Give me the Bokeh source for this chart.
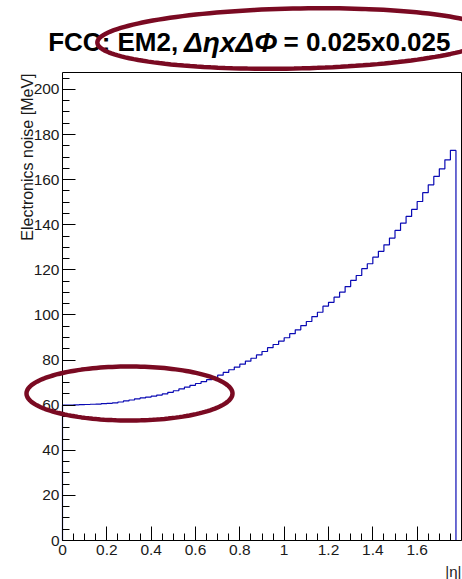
import numpy as np
from bokeh.plotting import figure
from bokeh.models import Range1d, FixedTicker, Label, PolyAnnotation, LinearAxis
from bokeh.embed import file_html
from bokeh.resources import INLINE

# ---- data ----
bin_width = 0.025
noise_mev = [60.0, 60.0, 60.1, 60.2, 60.3, 60.4, 60.5, 60.7, 60.8, 61.0,
             61.4, 61.9, 62.3, 62.8, 63.2, 63.6, 64.0, 64.5, 65.0, 65.7,
             66.4, 67.2, 68.0, 68.8, 69.6, 70.4, 71.3, 72.1, 73.3, 74.5,
             75.7, 76.9, 78.2, 79.5, 80.8, 82.3, 83.8, 85.5, 86.9, 88.4,
             89.9, 91.7, 93.4, 95.3, 97.1, 99.3, 101.2, 103.9, 105.6, 107.9,
             110.1, 112.6, 115.3, 117.5, 120.5, 122.7, 125.6, 128.2, 131.1, 134.1,
             137.5, 140.7, 143.7, 146.8, 150.3, 154.2, 157.7, 161.4, 164.8, 168.8,
             173.0]
eta_edges = [round(i * bin_width, 4) for i in range(len(noise_mev) + 1)]

x_ticks = [0, 0.2, 0.4, 0.6, 0.8, 1, 1.2, 1.4, 1.6]
x_tick_labels = ["0", "0.2", "0.4", "0.6", "0.8", "1", "1.2", "1.4", "1.6"]
y_ticks = [0, 20, 40, 60, 80, 100, 120, 140, 160, 180, 200]
y_tick_labels = ["0", "20", "40", "60", "80", "100", "120", "140", "160", "180", "200"]

title_parts = ["FCC: EM2,", "\u0394\u03b7x\u0394\u03a6", "= 0.025x0.025"]
y_title = "Electronics noise [MeV]"
x_title = "|\u03b7|"

# ---- layout: the plot box occupies canvas pixels x 62..461, y 72..540 ----
x_lo, x_hi = 0.0, 1.8
y_lo, y_hi = 0.0, 207.5
W, H = 462, 579
box_l, box_r, box_t, box_b = 62, 461, 72, 540
kx = (box_r - box_l) / (x_hi - x_lo)
ky = (box_b - box_t) / (y_hi - y_lo)
x_range = Range1d(x_lo - box_l / kx, x_hi + (W - box_r) / kx)
y_range = Range1d(y_lo - (H - box_b) / ky, y_hi + box_t / ky)

p = figure(width=W, height=H, output_backend="svg", toolbar_location=None,
           x_range=x_range, y_range=y_range, x_axis_type=None, y_axis_type=None,
           min_border=0, title=None)
p.background_fill_color = "white"
p.border_fill_color = "white"
p.outline_line_color = None

line_col = "#0a0ab4"
p.step(x=eta_edges, y=noise_mev + [noise_mev[-1]], mode="after",
       line_color=line_col, line_width=1.2)
p.segment(x0=[eta_edges[0], eta_edges[-1]], y0=[0, 0],
          x1=[eta_edges[0], eta_edges[-1]], y1=[noise_mev[0], noise_mev[-1]],
          line_color=line_col, line_width=1.2)

def style_axis(ax):
    ax.axis_line_color = "black"
    ax.major_tick_line_color = "black"
    ax.minor_tick_line_color = "black"
    ax.major_tick_out = 0
    ax.minor_tick_out = 0
    ax.major_label_text_color = "#1a1a1a"
    ax.major_label_text_font = "Liberation Sans"
    ax.major_label_text_font_size = "15.5px"

xaxis = LinearAxis(fixed_location=y_lo, bounds=(x_lo, x_hi),
                   ticker=FixedTicker(ticks=x_ticks,
                                      minor_ticks=[round(i * 0.05, 3) for i in range(37)]))
style_axis(xaxis)
xaxis.major_label_overrides = dict(zip(x_ticks, x_tick_labels))
xaxis.major_tick_in = 14
xaxis.minor_tick_in = 7
xaxis.major_label_standoff = 4
p.add_layout(xaxis, "below")

yaxis = LinearAxis(fixed_location=x_lo, bounds=(y_lo, y_hi),
                   ticker=FixedTicker(ticks=y_ticks, minor_ticks=list(range(0, 210, 5))))
style_axis(yaxis)
yaxis.major_label_overrides = dict(zip(y_ticks, y_tick_labels))
yaxis.major_tick_in = 13
yaxis.minor_tick_in = 7
yaxis.major_label_standoff = 3
p.add_layout(yaxis, "left")

# plain box edges (top, right)
top_edge = LinearAxis(fixed_location=y_hi, bounds=(x_lo, x_hi),
                      ticker=FixedTicker(ticks=[], minor_ticks=[]))
right_edge = LinearAxis(fixed_location=x_hi, bounds=(y_lo, y_hi),
                        ticker=FixedTicker(ticks=[], minor_ticks=[]))
for ax in (top_edge, right_edge):
    ax.axis_line_color = "black"
    ax.major_tick_line_color = None
    ax.minor_tick_line_color = None
    ax.major_label_text_alpha = 0
p.add_layout(top_edge, "above")
p.add_layout(right_edge, "right")

# ---- texts ----
title_mid = y_hi + (box_t - 41.5) / ky
offsets = [-14.3, 121.5, 221]
styles = ["bold", "bold italic", "bold"]
sizes = ["26px", "28px", "26px"]
for txt, off, st, fs in zip(title_parts, offsets, styles, sizes):
    p.add_layout(Label(x=x_lo, y=title_mid, x_offset=off, text=txt,
                       text_font="Liberation Sans", text_font_style=st,
                       text_font_size=fs, text_color="black",
                       text_align="left", text_baseline="middle"))

p.add_layout(Label(x=x_lo, y=y_hi - 1 / ky, x_offset=-35.5, text=y_title,
                   angle=np.pi / 2, text_align="right", text_baseline="middle",
                   text_font="Liberation Sans", text_font_size="16px",
                   text_color="#1a1a1a"))
p.add_layout(Label(x=x_hi, y=y_lo - 31 / ky, text=x_title,
                   text_align="right", text_baseline="middle",
                   text_font="Liberation Sans", text_font_size="15px",
                   text_color="#1a1a1a"))

# ---- hand-drawn style ellipses ----
def ellipse_path(cx, cy, rx_px, ry_px, tilt_deg, n=160):
    t = np.linspace(0, 2 * np.pi, n)
    a = np.deg2rad(tilt_deg)
    ex = rx_px * np.cos(t)
    ey = ry_px * np.sin(t)
    rx_ = ex * np.cos(a) - ey * np.sin(a)
    ry_ = ex * np.sin(a) + ey * np.cos(a)
    return list(cx + rx_ / kx), list(cy + ry_ / ky)

ell_col = "#7a0a22"
for (cx, cy, rxp, ryp, tilt) in [((294.8 - box_l) / kx, y_hi + (box_t - 38) / ky, 198, 30, 1.2),
                                 ((129 - box_l) / kx, (box_b - 393) / ky, 103, 27, 0.0)]:
    xs, ys = ellipse_path(cx, cy, rxp, ryp, tilt)
    p.add_layout(PolyAnnotation(xs=xs, ys=ys, line_color=ell_col, line_width=4.5,
                                line_alpha=1.0, fill_color=None, fill_alpha=0))

open("out.html", "w").write(file_html(p, INLINE))
